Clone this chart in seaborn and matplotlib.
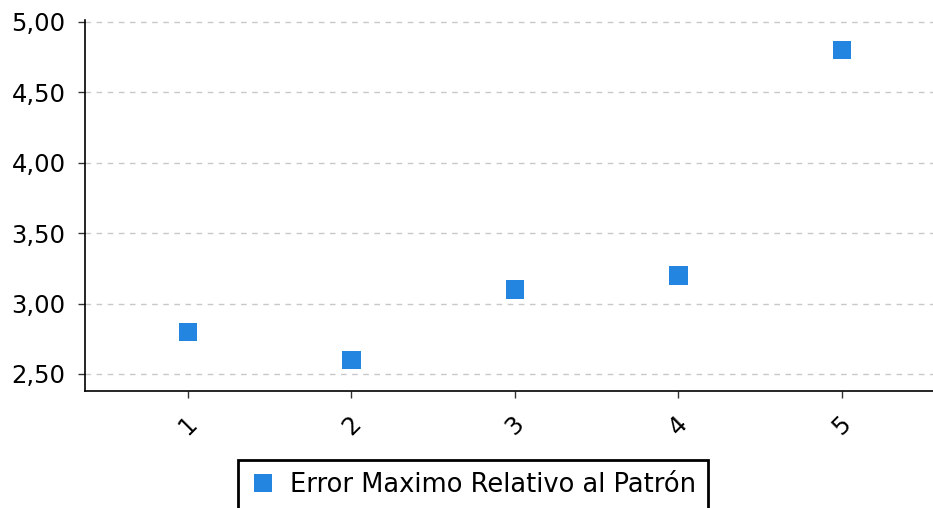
import pandas as pd
import matplotlib
matplotlib.use("Agg")
import matplotlib.pyplot as plt
import seaborn as sns
from matplotlib.ticker import FuncFormatter

# data
mediciones = [1, 2, 3, 4, 5]
error_max = [2.80, 2.60, 3.10, 3.20, 4.80]
serie = "Error Maximo Relativo al Patrón"

df = pd.DataFrame({"medicion": mediciones, "error": error_max, "serie": serie})

sns.set_style("white")
plt.rcParams['font.family'] = ['DejaVu Sans']
plt.rcParams['text.color'] = 'black'
plt.rcParams['xtick.color'] = 'black'
plt.rcParams['ytick.color'] = 'black'

fig = plt.figure(figsize=(9.33, 5.08), dpi=100)
ax = fig.add_axes([0.0911, 0.2303, 0.9089, 0.7303])

sns.scatterplot(data=df, x="medicion", y="error", hue="serie", palette=["#2385DF"],
                marker="s", s=175, linewidth=0, ax=ax, legend=False, zorder=3)

ax.set_xlim(0.37, 5.557)
ax.set_ylim(2.379, 5.012)
ax.set_xticks(mediciones)
ax.set_xticklabels([str(m) for m in mediciones], rotation=45, fontsize=17.5)
ax.set_yticks([2.5, 3.0, 3.5, 4.0, 4.5, 5.0])
ax.yaxis.set_major_formatter(FuncFormatter(lambda v, p: f"{v:.2f}".replace(".", ",")))
ax.tick_params(axis="y", labelsize=17.5, pad=9)
ax.tick_params(axis="x", pad=10)
ax.tick_params(axis="both", direction="out", length=5, width=1, color="#333333",
               left=True, bottom=True)
ax.set_xlabel("")
ax.set_ylabel("")

ax.yaxis.grid(True, linestyle=(0, (4, 4)), color="#c8c8c8", linewidth=1)
ax.xaxis.grid(False)
for side in ["top", "right"]:
    ax.spines[side].set_visible(False)
for side in ["left", "bottom"]:
    ax.spines[side].set_color("black")
    ax.spines[side].set_linewidth(1.2)

handle = plt.Line2D([], [], marker="s", linestyle="", markersize=13,
                    markerfacecolor="#2385DF", markeredgewidth=0)
leg = fig.legend([handle], [serie], loc="upper center", bbox_to_anchor=(0.507, 0.094),
                 fontsize=18.5, frameon=True, fancybox=False, framealpha=1,
                 borderpad=0.45, handlelength=1.0, handletextpad=0.55, borderaxespad=0)
leg.get_frame().set_edgecolor("black")
leg.get_frame().set_linewidth(2)

fig.savefig("out.png", dpi=100)
